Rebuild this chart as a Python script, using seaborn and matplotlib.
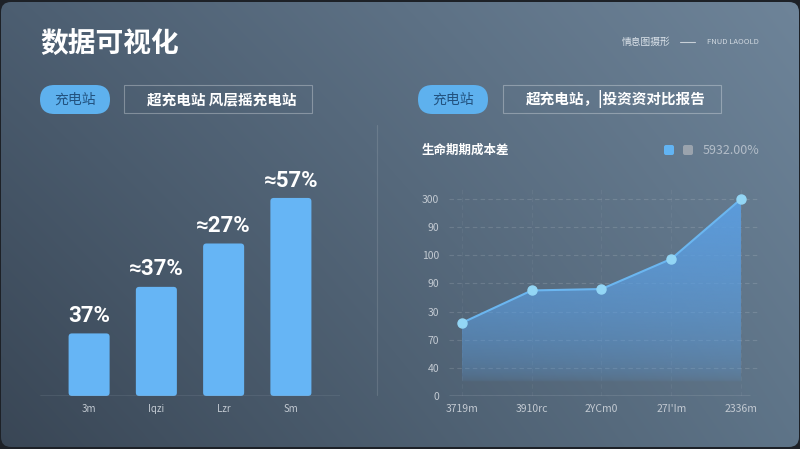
import numpy as np
import pandas as pd
import matplotlib
matplotlib.use("Agg")
import matplotlib.pyplot as plt
import matplotlib.colors as mcolors
import seaborn as sns
from matplotlib.patches import FancyBboxPatch, Rectangle, Polygon

# datos del gráfico de barras (izquierda)
bar_cats = ["3m", "Iqzi", "Lzr", "Sm"]
bar_vals = [31.6, 55.1, 77.0, 100.0]
bar_labels = ["37%", "≈37%", "≈27%", "≈57%"]

# datos del gráfico de área (derecha)
line_cats = ["3719m", "3910rc", "2YCm0", "27I'Im", "2336m"]
line_vals = [2.6, 3.75, 3.8, 4.87, 7.0]
y_ticks = [0, 1, 2, 3, 4, 5, 6, 7]
y_tick_labels = ["0", "40", "70", "30", "90", "100", "90", "300"]

sns.set_theme(style="white")
plt.rcParams['font.family'] = ['Noto Sans CJK SC', 'DejaVu Sans']

fig = plt.figure(figsize=(8, 4.49), dpi=100)
fig.patch.set_facecolor("#1d2127")

# fondo con degradado (coordenadas en píxeles)
bg = fig.add_axes([0, 0, 1, 1])
bg.axis("off")
tl, tr, bl, br = [np.array(mcolors.to_rgb(c)) for c in ("#4c5e71", "#6e8499", "#394655", "#5e7488")]
u = np.linspace(0, 1, 800)[None, :, None]
v = np.linspace(0, 1, 449)[:, None, None]
img = (1 - u) * (1 - v) * tl + u * (1 - v) * tr + (1 - u) * v * bl + u * v * br
card = FancyBboxPatch((1, 2), 798, 445, boxstyle="round,pad=0,rounding_size=10", fc="none", ec="none")
bg.add_patch(card)
im = bg.imshow(img, extent=(0, 800, 449, 0), aspect="auto", zorder=0)
im.set_clip_path(card)
bg.set_xlim(0, 800)
bg.set_ylim(449, 0)

# títulos y etiquetas superiores
bg.text(40, 45, "数据可视化", fontsize=20, fontweight="bold", color="white", va="center", ha="left")
bg.text(622, 42, "情息图摄形", fontsize=7, color="#dce3ea", va="center", ha="left")
bg.plot([680, 695], [42, 42], color="#c8d0d8", lw=0.8)
bg.text(707, 42, "FNUD LAOOLD", fontsize=5.5, color="#d0d8e0", va="center", ha="left")

for px, bx, bw, txt in [(40, 124, 188, "超充电站 风层摇充电站"), (418, 503, 218, "超充电站，|投资资对比报告")]:
    bg.add_patch(FancyBboxPatch((px, 85), 70, 29, boxstyle="round,pad=0,rounding_size=14.5",
                                fc="#5eb1ee", ec="none", zorder=2))
    bg.text(px + 35, 99.5, "充电站", fontsize=10, color="#22527f", ha="center", va="center", zorder=3)
    bg.add_patch(Rectangle((bx, 85), bw, 28, fc="none", ec=(1, 1, 1, 0.3), lw=0.8, zorder=2))
    bg.text(bx + bw / 2 + 4, 99.5, txt, fontsize=10.5, fontweight="bold", color="white",
            ha="center", va="center", zorder=3)

bg.text(422, 150, "生命期期成本差", fontsize=9, fontweight="bold", color="white", va="center", ha="left")
bg.add_patch(FancyBboxPatch((664, 145), 10, 10, boxstyle="round,pad=0,rounding_size=2", fc="#62b4f3", ec="none"))
bg.add_patch(FancyBboxPatch((683, 145), 10, 10, boxstyle="round,pad=0,rounding_size=2", fc="#9aa3ad", ec="none"))
bg.text(703, 150, "5932.00%", fontsize=9, color="#b3bdc8", va="center", ha="left", fontweight="light")

# línea divisoria
bg.plot([377, 377], [125, 395], color=(1, 1, 1, 0.12), lw=0.8)

# gráfico 1: barras
ax1 = fig.add_axes([40 / 800, (449 - 396) / 449, 300 / 800, 246 / 449])
ax1.patch.set_alpha(0)
df_bar = pd.DataFrame({"cat": bar_cats, "val": bar_vals})
sns.barplot(data=df_bar, x="cat", y="val", ax=ax1, color="#66b5f5", width=0.61, saturation=1)
ax1.set_xlim(-0.73, 3.73)
ax1.set_ylim(0, 124.2)

# esquinas redondeadas
for p in list(ax1.patches):
    x, w, h = p.get_x(), p.get_width(), p.get_height()
    rb = FancyBboxPatch((x, 0), w, h, boxstyle="round,pad=0,rounding_size=0.05",
                        mutation_aspect=33.8, fc="#66b5f5", ec="none")
    p.remove()
    ax1.add_patch(rb)

for i, (val, lab) in enumerate(zip(bar_vals, bar_labels)):
    ax1.text(i, val + 8.8, lab, ha="center", va="center", fontsize=16, fontweight="bold",
             color="white", family=["Roboto", "DejaVu Sans"])

ax1.axhline(0, color="#8794a2", lw=1)
ax1.set_xlabel("")
ax1.set_ylabel("")
ax1.set_yticks([])
ax1.tick_params(axis="x", length=0, pad=6, labelsize=7, colors="#c3cad2")
sns.despine(ax=ax1, left=True, bottom=True)

# gráfico 2: área
x0, x1 = -0.186, 4.244
ax2 = fig.add_axes([449 / 800, (449 - 396) / 449, 309 / 800, 208 / 449])
ax2.patch.set_alpha(0)
xs = np.arange(len(line_vals))

ny = 300
yy = np.linspace(0, 7.0, ny)
alpha = 0.92 * np.clip((yy - 0.5) / 6.5, 0, 1) ** 0.45
grad = np.zeros((ny, 2, 4))
grad[..., :3] = mcolors.to_rgb("#5b9fe3")
grad[..., 3] = alpha[:, None]
poly = Polygon([(0, 0)] + list(zip(xs, line_vals)) + [(xs[-1], 0)], closed=True, fc="none", ec="none")
ax2.add_patch(poly)
gim = ax2.imshow(grad, extent=(0, xs[-1], 0, 7.0), origin="lower", aspect="auto", zorder=1)
gim.set_clip_path(poly)

sns.lineplot(x=xs, y=line_vals, ax=ax2, color="#6bb6f0", lw=1.5, zorder=3)
ax2.plot(xs, line_vals, "o", ms=6.5, color="#93d6f5", zorder=4)

ax2.set_xlim(x0, x1)
ax2.set_ylim(0, 7.39)
ax2.set_yticks(y_ticks, y_tick_labels)
ax2.set_xticks(xs, line_cats)
ax2.grid(axis="y", color="white", alpha=0.13, linestyle=(0, (4, 3)), lw=0.8)
ax2.grid(axis="x", color="white", alpha=0.05, linestyle=(0, (4, 3)), lw=0.8)
ax2.hlines(0, x0, 4.13, color="#aab4bf", lw=1, zorder=5)
ax2.tick_params(axis="y", length=0, pad=7, labelsize=7.5, colors="#c3cad2")
ax2.tick_params(axis="x", length=0, pad=6, labelsize=7.5, colors="#c3cad2")
sns.despine(ax=ax2, left=True, bottom=True)

fig.savefig("out.png", dpi=100)
